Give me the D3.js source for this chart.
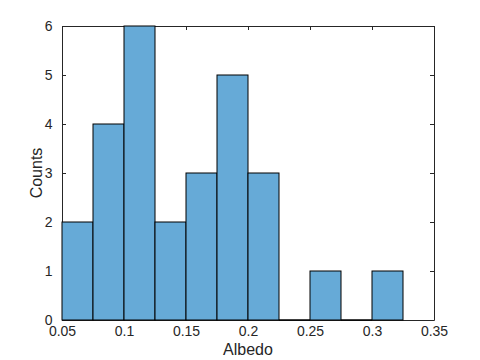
<!DOCTYPE html>
<html>
<head>
<meta charset="utf-8">
<script src="https://cdn.jsdelivr.net/npm/d3@7"></script>
<style>
  body { margin: 0; background: #fff; }
  svg text { font-family: "Liberation Sans", Arial, sans-serif; fill: #262626; }
</style>
</head>
<body>
<div id="chart"></div>
<script>
// Histogram bins (lower edges) and counts
const binStarts = [0.05, 0.075, 0.1, 0.125, 0.15, 0.175, 0.2, 0.225, 0.25, 0.275, 0.3];
const binWidth = 0.025;
const counts = [2, 4, 6, 2, 3, 5, 3, 0, 1, 0, 1];
const xTicks = [0.05, 0.1, 0.15, 0.2, 0.25, 0.3, 0.35];
const yTicks = [0, 1, 2, 3, 4, 5, 6];

const width = 480, height = 360;
const margin = { top: 26, right: 46, bottom: 40, left: 62 };
const innerWidth = width - margin.left - margin.right;
const innerHeight = height - margin.top - margin.bottom;

const x = d3.scaleLinear().domain([0.05, 0.35]).range([0, innerWidth]);
const y = d3.scaleLinear().domain([0, 6]).range([innerHeight, 0]);

const svg = d3.select('#chart').append('svg')
  .attr('width', width)
  .attr('height', height);

const g = svg.append('g')
  .attr('transform', `translate(${margin.left}, ${margin.top})`);

// Axes with inward ticks
const axisColor = '#262626';
const tickLen = 4;

const xTop = g.append('g')
  .call(d3.axisTop(x).tickValues(xTicks).tickSizeInner(-tickLen).tickSizeOuter(0).tickFormat(''));
const yRight = g.append('g')
  .attr('transform', `translate(${innerWidth}, 0)`)
  .call(d3.axisRight(y).tickValues(yTicks).tickSizeInner(-tickLen).tickSizeOuter(0).tickFormat(''));
xTop.selectAll('.tick text').remove();
yRight.selectAll('.tick text').remove();

const xAxis = g.append('g')
  .attr('transform', `translate(0, ${innerHeight})`)
  .call(d3.axisBottom(x).tickValues(xTicks).tickSizeInner(-tickLen).tickSizeOuter(0)
    .tickPadding(8).tickFormat(d => String(+d.toFixed(2))));
const yAxis = g.append('g')
  .call(d3.axisLeft(y).tickValues(yTicks).tickSizeInner(-tickLen).tickSizeOuter(0)
    .tickPadding(8).tickFormat(d3.format('d')));

[xAxis, yAxis, xTop, yRight].forEach(a => {
  a.select('.domain').attr('stroke', axisColor);
  a.selectAll('.tick line').attr('stroke', axisColor);
  a.selectAll('.tick text').attr('font-size', 14).style('fill', axisColor);
});
xAxis.selectAll('.tick text').attr('dy', '0.6em');
yAxis.selectAll('.tick text').attr('dx', '-0.1em');

// Bars (zero-count bins show as a line on the baseline)
const bins = binStarts.map((s, i) => ({ x0: s, x1: s + binWidth, n: counts[i] }));
g.selectAll('.bar')
  .data(bins.filter(d => d.n > 0))
  .join('rect')
  .attr('class', 'bar')
  .attr('x', d => x(d.x0))
  .attr('y', d => y(d.n))
  .attr('width', d => x(d.x1) - x(d.x0))
  .attr('height', d => y(0) - y(d.n))
  .attr('fill', '#66aad7')
  .attr('stroke', '#000')
  .attr('stroke-width', 1);
g.selectAll('.empty')
  .data(bins.filter(d => d.n === 0))
  .join('line')
  .attr('class', 'empty')
  .attr('x1', d => x(d.x0))
  .attr('x2', d => x(d.x1))
  .attr('y1', y(0))
  .attr('y2', y(0))
  .attr('stroke', '#000')
  .attr('stroke-width', 1.5);

// Axis labels
svg.append('text')
  .attr('x', margin.left + innerWidth / 2)
  .attr('y', 355)
  .attr('text-anchor', 'middle')
  .attr('font-size', 16)
  .text('Albedo');
svg.append('text')
  .attr('transform', `translate(42, ${margin.top + innerHeight / 2}) rotate(-90)`)
  .attr('text-anchor', 'middle')
  .attr('font-size', 16)
  .text('Counts');
</script>
</body>
</html>
